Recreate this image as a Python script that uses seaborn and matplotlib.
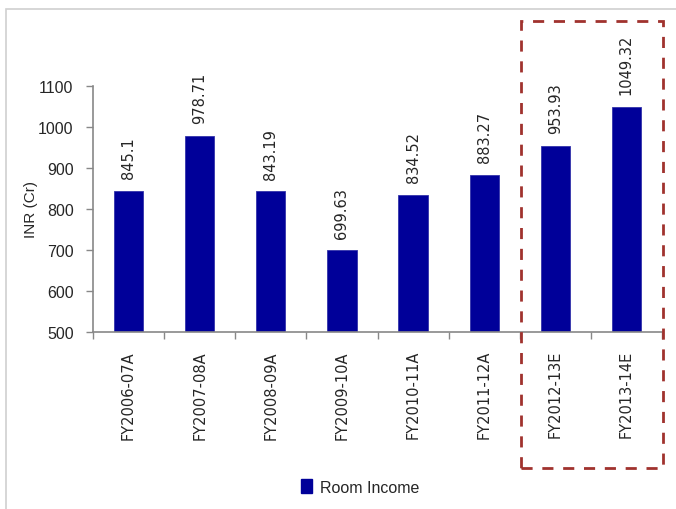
import matplotlib
matplotlib.use("Agg")
import matplotlib.pyplot as plt
import seaborn as sns
import pandas as pd
from matplotlib.patches import Rectangle, Patch

categories = ["FY2006-07A", "FY2007-08A", "FY2008-09A", "FY2009-10A",
              "FY2010-11A", "FY2011-12A", "FY2012-13E", "FY2013-14E"]
room_income = [845.1, 978.71, 843.19, 699.63, 834.52, 883.27, 953.93, 1049.32]
value_labels = ["845.1", "978.71", "843.19", "699.63", "834.52", "883.27", "953.93", "1049.32"]
y_ticks = [500, 600, 700, 800, 900, 1000, 1100]
series_name = "Room Income"

sns.set_style("white")
plt.rcParams['font.family'] = ['DejaVu Sans']

df = pd.DataFrame({"cat": categories, "val": room_income})

fig = plt.figure(figsize=(6.76, 5.10), dpi=100)
ax = fig.add_axes([93/676, 1 - 333/510, (662 - 93)/676, (333 - 87)/510])

bar_color = "#000099"
sns.barplot(data=df, x="cat", y="val", color=bar_color, width=0.41,
            saturation=1, ax=ax, edgecolor="#3333aa", linewidth=0.6)

ax.set_ylim(500, 1100)
ax.set_xlim(-0.5, len(categories) - 0.5)
ax.set_yticks(y_ticks)
ax.set_yticklabels([str(t) for t in y_ticks], family=['Liberation Sans Narrow', 'Liberation Sans', 'DejaVu Sans'], fontsize=11.5)
ax.set_xticks(range(len(categories)))
ax.set_xticklabels(categories, rotation=90, fontsize=10.5)
ax.tick_params(axis='x', length=0, pad=13)
ax.tick_params(axis='y', length=5, width=1, color="#888888", direction='out', left=True, pad=9)
# minor ticks between categories on x axis
ax.set_xticks([i + 0.5 for i in range(-1, len(categories))], minor=True)
ax.tick_params(axis='x', which='minor', length=5, width=1, color="#888888", direction='out', bottom=True)

for s in ["top", "right"]:
    ax.spines[s].set_visible(False)
for s in ["left", "bottom"]:
    ax.spines[s].set_color("#888888")
    ax.spines[s].set_linewidth(1.2)

ax.set_xlabel("")
ax.set_ylabel("INR (Cr)", family=['Liberation Sans', 'DejaVu Sans'], fontsize=11, labelpad=0)

for i, (v, lab) in enumerate(zip(room_income, value_labels)):
    ax.annotate(lab, xy=(i, v), xytext=(0, 9), textcoords="offset points",
                rotation=90, ha="center", va="bottom", fontsize=10.5, annotation_clip=False)

# dashed highlight box around the estimates
fig.add_artist(Rectangle((521/676, 1 - 469/510), (663 - 521)/676, (469 - 22)/510,
                         transform=fig.transFigure, fill=False, edgecolor="#A0322E",
                         linestyle=(0, (4, 3.5)), linewidth=2))

# outer border
fig.add_artist(Rectangle((6/676, -0.02), 1.0, 1 - 10/510 + 0.02,
                         transform=fig.transFigure, fill=False, edgecolor="#d0d0d0", linewidth=1.2))

handle = Patch(facecolor=bar_color, edgecolor=bar_color)
fig.legend([handle], [series_name], loc="center", bbox_to_anchor=(360/676, 1 - 488/510),
           frameon=False, handlelength=0.7, handleheight=0.9, handletextpad=0.5,
           prop={'family': ['Liberation Sans Narrow', 'Liberation Sans', 'DejaVu Sans'], 'size': 11.5})

fig.savefig("out.png", dpi=100)
